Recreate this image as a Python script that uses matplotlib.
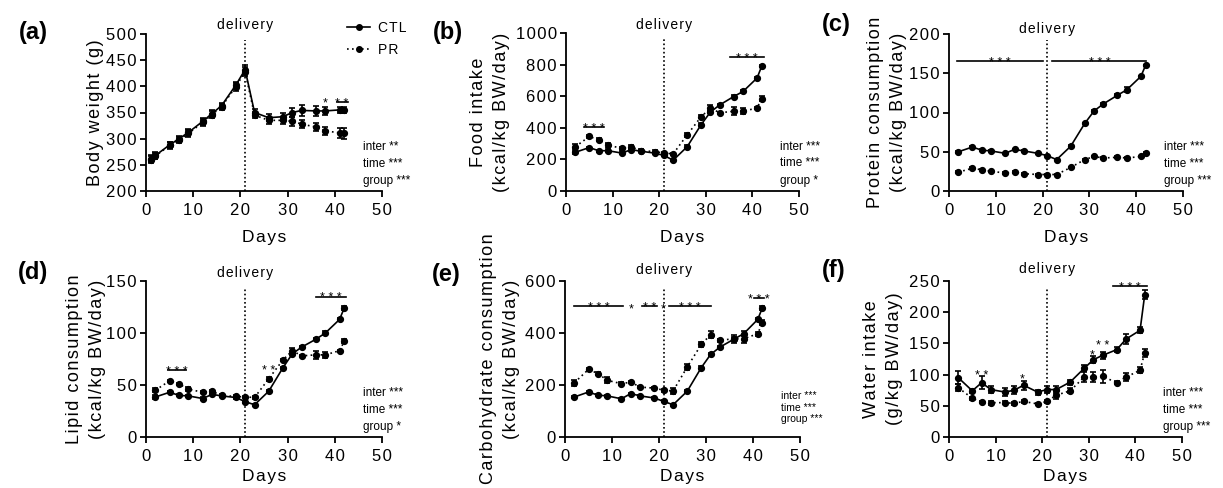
import numpy as np
import matplotlib.pyplot as plt
from matplotlib.lines import Line2D

plt.rcParams['font.family'] = ['Liberation Sans', 'DejaVu Sans']

# days of measurement
days_a = [1, 2, 5, 7, 9, 12, 14, 16, 19, 21, 23, 26, 29, 31, 33, 36, 38, 41, 42]
days = [2, 5, 7, 9, 12, 14, 16, 19, 21, 23, 26, 29, 31, 33, 36, 38, 41, 42]

# (a) body weight (g)
bw_ctl = [262, 268, 288, 300, 312, 333, 348, 363, 402, 432, 350, 340, 342, 350, 354, 353, 353, 355, 355]
bw_ctl_err = [6, 6, 6, 6, 7, 7, 7, 6, 7, 9, 7, 7, 8, 9, 10, 9, 8, 6, 6]
bw_pr = [260, 267, 287, 298, 310, 331, 346, 361, 399, 428, 345, 335, 335, 333, 328, 322, 315, 311, 310]
bw_pr_err = [6, 6, 6, 6, 7, 7, 7, 6, 7, 8, 6, 7, 7, 8, 8, 8, 8, 9, 11]

# (b) food intake (kcal/kg BW/day)
fi_ctl = [245, 275, 255, 255, 240, 262, 252, 240, 225, 195, 280, 420, 500, 545, 598, 630, 715, 790]
fi_ctl_err = [8, 6, 6, 6, 6, 6, 6, 6, 6, 6, 8, 8, 8, 8, 8, 12, 8, 8]
fi_pr = [280, 345, 325, 290, 270, 280, 255, 250, 240, 235, 355, 470, 525, 495, 505, 505, 525, 585]
fi_pr_err = [15, 8, 8, 15, 8, 10, 8, 8, 8, 6, 15, 8, 20, 8, 25, 20, 8, 15]

# (c) protein consumption (kcal/kg BW/day)
pc_ctl = [50, 56, 52, 51, 48, 53, 51, 48, 45, 40, 57, 86, 102, 111, 122, 129, 146, 160]
pc_ctl_err = [1, 1, 1, 1, 1, 1, 1, 1, 1, 1, 1, 1, 1, 1, 1, 3, 1, 1]
pc_pr = [24, 29, 27, 25, 23, 24, 22, 21, 21, 21, 30, 40, 44, 42, 43, 42, 44, 49]
pc_pr_err = [1, 1, 1, 1, 1, 1, 1, 1, 1, 1, 1, 1, 1, 1, 1, 1, 1, 1]

# (d) lipid consumption (kcal/kg BW/day)
lc_ctl = [38.5, 43, 40, 39.5, 37, 41, 39.5, 38, 34, 31, 44, 66.5, 80, 86.5, 94, 100, 113, 124]
lc_ctl_err = [2, 1, 1, 1, 1, 1, 1, 1, 1, 1, 1, 1, 1, 1, 1, 2, 1, 2]
lc_pr = [45, 54, 51, 46, 43, 44, 40, 39, 38.5, 38, 56, 74, 83, 78, 79, 79, 83, 92]
lc_pr_err = [2, 1, 1, 2, 1, 1, 1, 1, 1, 1, 2, 1, 3, 1, 4, 3, 1, 2]

# (e) carbohydrate consumption (kcal/kg BW/day)
cc_ctl = [154, 173, 161, 158, 147, 167, 158, 150, 137, 124, 176, 267, 318, 346, 377, 397, 452, 497]
cc_ctl_err = [4, 4, 4, 4, 4, 4, 4, 4, 4, 4, 5, 5, 5, 5, 8, 10, 5, 8]
cc_pr = [209, 260, 244, 218, 205, 211, 192, 188, 180, 177, 269, 356, 394, 372, 378, 378, 397, 440]
cc_pr_err = [12, 5, 5, 12, 5, 5, 5, 5, 5, 10, 10, 8, 15, 6, 15, 15, 8, 10]

# (f) water intake (g/kg BW/day)
wi_ctl = [95, 74, 87, 76, 72, 75, 83, 72, 76, 76, 88, 110, 124, 131, 140, 157, 171, 228]
wi_ctl_err = [10, 3, 10, 5, 7, 6, 7, 4, 6, 6, 4, 5, 6, 6, 4, 8, 5, 7]
wi_pr = [79, 62, 56, 55, 55, 54, 57, 53, 57, 67, 74, 96, 96, 97, 87, 96, 107, 135]
wi_pr_err = [6, 2, 2, 3, 2, 2, 2, 2, 2, 6, 4, 8, 8, 10, 2, 7, 5, 6]


def sp(s):
    # letter-spaced text, GraphPad style
    return '\n'.join('\u200a'.join(line) for line in s.split('\n'))


W, H = 1223, 488
fig = plt.figure(figsize=(W / 100, H / 100), dpi=100)


def px_axes(left, right, top, bottom):
    return fig.add_axes([left / W, 1 - bottom / H, (right - left) / W, (bottom - top) / H])


panels = [
    dict(box=(146, 382, 34, 191), x=days_a, ctl=bw_ctl, ce=bw_ctl_err, pr=bw_pr, pe=bw_pr_err,
         ylim=(200, 500), ystep=50, ylabel='Body weight (g)', lab='(a)', labxy=(33, 33),
         ylab_x=-0.216, deliv_y=1.057, days_y=-0.293,
         stats=['inter **', 'time ***', 'group ***'], stat_y=[0.28, 0.175, 0.064], stat_fs=8.5,
         bars=[(40.4, 42.7, 370, '* *')], stars=[(38, 375, '*')]),
    dict(box=(566, 799, 33, 191), x=days, ctl=fi_ctl, ce=fi_ctl_err, pr=fi_pr, pe=fi_pr_err,
         ylim=(0, 1000), ystep=200, ylabel='Food intake\n(kcal/kg BW/day)', lab='(b)', labxy=(448, 32),
         ylab_x=-0.326, deliv_y=1.05, days_y=-0.293,
         stats=['inter ***', 'time ***', 'group *'], stat_y=[0.28, 0.175, 0.064], stat_fs=8.5,
         bars=[(3.8, 8.2, 405, '* * *'), (35.2, 42.4, 850, '* * *')], stars=[]),
    dict(box=(949, 1183, 34, 191), x=days, ctl=pc_ctl, ce=pc_ctl_err, pr=pc_pr, pe=pc_pr_err,
         ylim=(0, 200), ystep=50, ylabel='Protein consumption\n(kcal/kg BW/day)', lab='(c)', labxy=(836, 24),
         ylab_x=-0.265, deliv_y=1.03, days_y=-0.293,
         stats=['inter ***', 'time ***', 'group ***'], stat_y=[0.28, 0.175, 0.064], stat_fs=8.5,
         bars=[(1.8, 20.0, 166, '* * *'), (22.1, 42.2, 166, '* * *')], stars=[]),
    dict(box=(146, 382, 281, 437), x=days, ctl=lc_ctl, ce=lc_ctl_err, pr=lc_pr, pe=lc_pr_err,
         ylim=(0, 150), ystep=50, ylabel='Lipid consumption\n(kcal/kg BW/day)', lab='(d)', labxy=(33, 273),
         ylab_x=-0.255, deliv_y=1.05, days_y=-0.256,
         stats=['inter ***', 'time ***', 'group *'], stat_y=[0.28, 0.175, 0.064], stat_fs=8.5,
         bars=[(4.7, 8.4, 64, '* * *'), (36.0, 42.3, 135, '* * *')], stars=[(25.9, 68, '* *')]),
    dict(box=(565, 800, 281, 437), x=days, ctl=cc_ctl, ce=cc_ctl_err, pr=cc_pr, pe=cc_pr_err,
         ylim=(0, 600), ystep=200, ylabel='Carbohydrate consumption\n(kcal/kg BW/day)', lab='(e)',
         labxy=(446, 274), ylab_x=-0.277, deliv_y=1.07, days_y=-0.256,
         stats=['inter ***', 'time ***', 'group ***'], stat_y=[0.263, 0.186, 0.118], stat_fs=7.5,
         bars=[(1.9, 12.3, 502, '* * *'), (16.4, 19.6, 502, '* *'), (22.1, 31.0, 502, '* * *'),
               (40.2, 42.3, 536, '* * *')],
         stars=[(14.0, 506, '*'), (20.8, 506, '*')]),
    dict(box=(949, 1182, 281, 437), x=days, ctl=wi_ctl, ce=wi_ctl_err, pr=wi_pr, pe=wi_pr_err,
         ylim=(0, 250), ystep=50, ylabel='Water intake\n(g/kg BW/day)', lab='(f)', labxy=(834, 270),
         ylab_x=-0.283, deliv_y=1.077, days_y=-0.256,
         stats=['inter ***', 'time ***', 'group ***'], stat_y=[0.28, 0.175, 0.064], stat_fs=8.5,
         bars=[(35.1, 42.4, 242, '* * *')],
         stars=[(7.0, 104, '* *'), (15.8, 100, '*'), (30.8, 138, '*'), (32.9, 153, '* *')]),
]

for p in panels:
    ax = px_axes(*p['box'])
    # PR (dotted) and CTL (solid)
    ax.errorbar(p['x'], p['pr'], yerr=p['pe'], color='black', ls=(0, (1, 2)), lw=1.2,
                marker='o', ms=4.2, capsize=2.5, elinewidth=1.2, capthick=1.2, clip_on=False, zorder=3)
    ax.errorbar(p['x'], p['ctl'], yerr=p['ce'], color='black', ls='-', lw=1.2,
                marker='o', ms=4.2, capsize=2.5, elinewidth=1.2, capthick=1.2, clip_on=False, zorder=4)

    ymin, ymax = p['ylim']
    ax.set_xlim(0, 50)
    ax.set_ylim(ymin, ymax)
    ax.set_xticks(range(0, 51, 10))
    ax.set_yticks(np.arange(ymin, ymax + 1, p['ystep']))
    ax.set_xticklabels([sp(str(t)) for t in range(0, 51, 10)])
    ax.set_yticklabels([sp(str(int(t))) for t in np.arange(ymin, ymax + 1, p['ystep'])])
    for s in ['top', 'right']:
        ax.spines[s].set_visible(False)
    for s in ['left', 'bottom']:
        ax.spines[s].set_linewidth(1.3)
    ax.tick_params(direction='out', length=4, width=1.3, labelsize=12, colors='black')
    ax.tick_params(axis='x', pad=4.5)
    ax.tick_params(axis='y', pad=2.5)

    # delivery line
    ax.axvline(21, ymin=0, ymax=0.96, color='black', ls=(0, (1, 1.5)), lw=1.2, zorder=1)
    ax.text(21, p['deliv_y'], sp('delivery'), transform=ax.get_xaxis_transform(),
            ha='center', va='center', fontsize=10)

    # axis labels
    ax.text(0.5, p['days_y'], sp('Days'), transform=ax.transAxes, ha='center', va='center', fontsize=12.5)
    ax.text(p['ylab_x'], 0.5, sp(p['ylabel']), transform=ax.transAxes, ha='center', va='center',
            rotation=90, fontsize=13, linespacing=1.5, multialignment='center')

    # two-way ANOVA results
    for txt, yy in zip(p['stats'], p['stat_y']):
        ax.text(46, yy, txt, transform=ax.get_xaxis_transform(), ha='left', va='center',
                fontsize=p['stat_fs'])

    # post-hoc significance
    for x0, x1, yb, st in p['bars']:
        ax.plot([x0, x1], [yb, yb], color='black', lw=1.2, clip_on=False)
        ax.annotate(st, ((x0 + x1) / 2, yb), xytext=(0, -3.5), textcoords='offset points',
                    ha='center', va='baseline', fontsize=9)
    for xs, ys, st in p['stars']:
        ax.annotate(st, (xs, ys), xytext=(0, -5.3), textcoords='offset points',
                    ha='center', va='baseline', fontsize=9)

    fig.text(p['labxy'][0] / W, 1 - p['labxy'][1] / H, p['lab'], ha='center', va='center',
             fontsize=17, fontweight='bold')

    if p['lab'] == '(a)':
        handles = [Line2D([], [], color='black', ls='-', lw=1.2, marker='o', ms=4),
                   Line2D([], [], color='black', ls=(0, (1, 2)), lw=1.2, marker='o', ms=4)]
        ax.legend(handles, [sp('CTL'), sp('PR')], loc='upper left', bbox_to_anchor=(0.83, 1.12),
                  frameon=False, fontsize=10, handlelength=1.6, handletextpad=0.6, labelspacing=0.6,
                  borderaxespad=0)

fig.savefig('out.png', dpi=100)
